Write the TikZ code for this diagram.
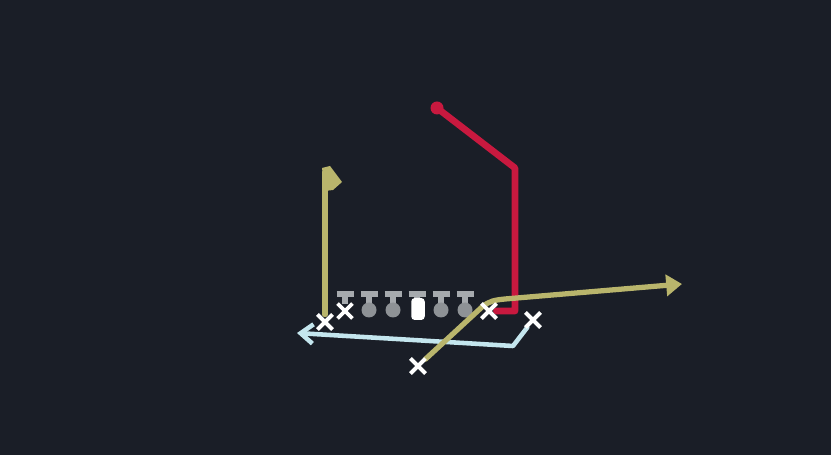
\documentclass[tikz,border=0pt]{standalone}
\usetikzlibrary{arrows.meta,shapes.misc}
\definecolor{field}{HTML}{1A1E27}
\definecolor{routeyellow}{HTML}{B9B56C}
\definecolor{routered}{HTML}{C8193F}
\definecolor{routeblue}{HTML}{C4E6EE}
\definecolor{linegray}{HTML}{A6AAAE}
\definecolor{ballgray}{HTML}{8E9296}
\begin{document}
\begin{tikzpicture}[x=0.02cm,y=-0.02cm,
  player/.style={cross out,draw=white,line width=2.2pt,minimum size=0.22cm,inner sep=0pt},
  lineman/.style={circle,fill=ballgray,minimum size=0.3cm,inner sep=0pt},
  snapper/.style={rectangle,rounded corners=2pt,fill=white,minimum width=0.27cm,minimum height=0.44cm,inner sep=0pt},
  route/.style={line width=3pt,line cap=round,line join=round}]
\newcommand{\bary}{294}

\fill[field] (0,0) rectangle (831,455);

\foreach \x in {345,369,393,417,441,465}
  \draw[linegray,line width=3pt] (\x-8.5,\bary) -- (\x+8.5,\bary) (\x,\bary) -- (\x,304);
\foreach \x in {345,369,393,417,441,465}
  \draw[linegray,line width=3.6pt] (\x,\bary) -- (\x,304);
\foreach \x [count=\i] in {369,393,441,465}
  \node[lineman] (g\i) at (\x,310) {};
\node[snapper] (c) at (418,309) {};

\node[player] (t) at (345,311) {};
\node[player] (wl) at (325,322) {};
\node[player] (rb) at (418,366) {};
\node[player] (sl) at (489,311) {};
\node[player] (wr) at (533,320) {};

\coordinate (rtop) at (437,108);
\coordinate (fend) at (682,284);
\coordinate (bend) at (297,333);

\draw[route,routered,line width=3.8pt] (sl) -- (515,311) -- (515,168) -- (rtop);
\fill[routered] (rtop) circle (6.5);

\draw[route,routeblue,line width=2.6pt,-{Straight Barb[length=7pt,width=11pt]}] (wr) -- (513,346) -- (bend);

\draw[route,routeyellow] (wl) -- (325,172);
\fill[routeyellow] (322,168) -- (330,166) -- (342,182) -- (333,190) -- (325,191) -- cycle;
\draw[route,routeyellow,-{Triangle[length=9pt,width=12pt]}] (rb) -- (482,307) .. controls (489,301) and (495,300) .. (505,299) -- (fend);

\node[player] at (wl) {};
\node[player] at (rb) {};
\node[player] at (sl) {};
\node[player] at (wr) {};
\end{tikzpicture}
\end{document}
